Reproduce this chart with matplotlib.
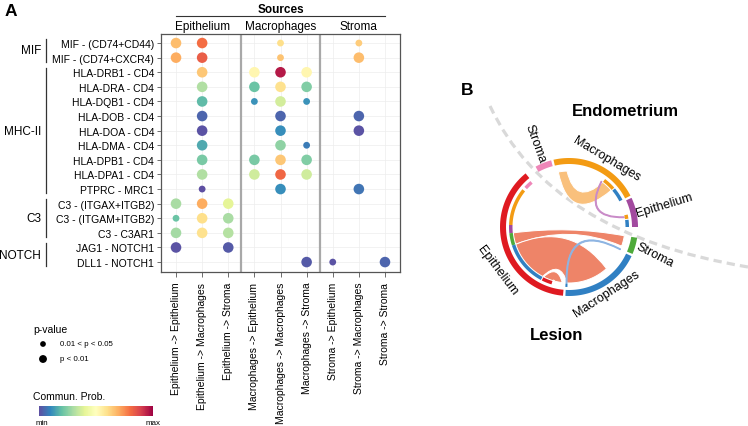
import numpy as np
import matplotlib.pyplot as plt
import matplotlib.transforms as mtransforms
from matplotlib.path import Path
from matplotlib.patches import PathPatch, Polygon
from matplotlib.cm import ScalarMappable
from matplotlib.colors import Normalize

plt.rcParams['font.family'] = ['Liberation Sans', 'DejaVu Sans']

# ---------------- panel A data ----------------
pairs = [
    "MIF - (CD74+CD44)", "MIF - (CD74+CXCR4)",
    "HLA-DRB1 - CD4", "HLA-DRA - CD4", "HLA-DQB1 - CD4", "HLA-DOB - CD4",
    "HLA-DOA - CD4", "HLA-DMA - CD4", "HLA-DPB1 - CD4", "HLA-DPA1 - CD4",
    "PTPRC - MRC1",
    "C3 - (ITGAX+ITGB2)", "C3 - (ITGAM+ITGB2)", "C3 - C3AR1",
    "JAG1 - NOTCH1", "DLL1 - NOTCH1",
]
pathways = ["MIF", "MHC-II", "C3", "NOTCH"]
pathway_rows = [(0, 1), (2, 10), (11, 13), (14, 15)]
sources = ["Epithelium", "Macrophages", "Stroma"]
links = [f"{s} -> {t}" for s in sources for t in sources]

N = np.nan
# scaled communication probability (0 = min, 1 = max), nan = no link
prob = [
    [0.67, 0.80, N, N, 0.60, N, N, 0.64, N],
    [0.70, 0.83, N, N, 0.66, N, N, 0.67, N],
    [N, 0.65, N, 0.53, 0.96, 0.53, N, N, N],
    [N, 0.31, N, 0.21, 0.59, 0.24, N, N, N],
    [N, 0.19, N, 0.12, 0.37, 0.12, N, N, N],
    [N, 0.04, N, N, 0.04, N, N, 0.04, N],
    [N, 0.01, N, N, 0.11, N, N, 0.01, N],
    [N, 0.16, N, N, 0.26, 0.08, N, N, N],
    [N, 0.23, N, 0.23, 0.65, 0.24, N, N, N],
    [N, 0.31, N, 0.36, 0.81, 0.36, N, N, N],
    [N, 0.00, N, N, 0.11, N, N, 0.07, N],
    [0.30, 0.70, 0.40, N, N, N, N, N, N],
    [0.21, 0.60, 0.30, N, N, N, N, N, N],
    [0.29, 0.59, 0.32, N, N, N, N, N, N],
    [0.01, N, 0.02, N, N, N, N, N, N],
    [N, N, N, N, N, 0.02, 0.01, N, 0.04],
]
# 1 = p < 0.01, 0 = 0.01 < p < 0.05
strong = [
    [1, 1, 0, 0, 0, 0, 0, 0, 0],
    [1, 1, 0, 0, 0, 0, 0, 1, 0],
    [0, 1, 0, 1, 1, 1, 0, 0, 0],
    [0, 1, 0, 1, 1, 1, 0, 0, 0],
    [0, 1, 0, 0, 1, 0, 0, 0, 0],
    [0, 1, 0, 0, 1, 0, 0, 1, 0],
    [0, 1, 0, 0, 1, 0, 0, 1, 0],
    [0, 1, 0, 0, 1, 0, 0, 0, 0],
    [0, 1, 0, 1, 1, 1, 0, 0, 0],
    [0, 1, 0, 1, 1, 1, 0, 0, 0],
    [0, 0, 0, 0, 1, 0, 0, 1, 0],
    [1, 1, 1, 0, 0, 0, 0, 0, 0],
    [0, 1, 1, 0, 0, 0, 0, 0, 0],
    [1, 1, 1, 0, 0, 0, 0, 0, 0],
    [1, 0, 1, 0, 0, 0, 0, 0, 0],
    [0, 0, 0, 0, 0, 1, 0, 0, 1],
]

# ---------------- panel B data (angles in degrees) ----------------
sector_names = ["Stroma", "Macrophages", "Epithelium", "Stroma", "Macrophages", "Epithelium"]
sector_colors = ["#EE86B8", "#F39B13", "#A24A9F", "#4EAA3A", "#3080C3", "#DF1A21"]
sector_spans = [(105, 119), (27, 103), (0, 25), (-23, -9), (-93, -25), (129, 265)]
label_pos = [(112, 91, -70), (61, 78, -31), (13, 98, 17), (-18, 90, -27), (-60, 76, 33), (211, 83, -53)]

track_spans = [(41, 53), (27, 40), (8, 12), (0, 7),
               (130, 138), (141, 178), (178, 186), (186, 198), (198, 242), (243, 253), (266.5, 268.5)]
track_colors = ["#F39B13", "#3080C3", "#F39B13", "#3080C3",
                "#EE86B8", "#F39B13", "#A24A9F", "#4EAA3A", "#3080C3", "#DF1A21", "#3080C3"]

chord_src = [(41, 53), (9.5, 10.5), (186, 198), (198, 242), (243, 253), (267, 268)]
chord_tgt = [(92, 101), (54, 55), (-20, -9), (268, 312), (255, 263), (-24, -23)]
chord_colors = ["#F9C07C", "#C98BC8", "#EE8468", "#EE8468", "#EE8468", "#8DB4E2"]

# ---------------- figure ----------------
fig = plt.figure(figsize=(7.48, 4.27), dpi=100)
ax = fig.add_axes([161 / 748, 1 - 273 / 427, 239 / 748, 238 / 427])
ov = fig.add_axes([0, 0, 1, 1])
ov.set_xlim(0, 748)
ov.set_ylim(427, 0)
ov.axis('off')

cmap = plt.cm.Spectral_r
xs, ys, cs, ss = [], [], [], []
for i, row in enumerate(prob):
    for j, v in enumerate(row):
        if not np.isnan(v):
            xs.append(j)
            ys.append(i)
            cs.append(v)
            ss.append(58 if strong[i][j] else 24)
ax.scatter(xs, ys, c=cs, s=ss, cmap=cmap, vmin=0, vmax=1, linewidths=0, zorder=3)

ax.set_xlim(-0.575, 8.575)
ax.set_ylim(15.68, -0.62)
ax.set_xticks(range(len(links)))
ax.set_xticklabels(links, rotation=90, fontsize=7.5)
ax.set_yticks(range(len(pairs)))
ax.set_yticklabels(pairs, fontsize=7.5)
ax.tick_params(axis='y', length=3, width=0.6, color='#555555', pad=2)
ax.tick_params(axis='x', length=3.5, width=0.6, color='#555555', pad=3.5)
ax.grid(color='#EDEDED', lw=0.5)
ax.set_axisbelow(True)
for x in (2.5, 5.5):
    ax.axvline(x, color='#A8A8A8', lw=1.6, zorder=2)
for sp in ax.spines.values():
    sp.set_color('#555555')
    sp.set_linewidth(0.9)

# pathway brackets
tb = mtransforms.blended_transform_factory(fig.transFigure, ax.transData)
for name, (r0, r1) in zip(pathways, pathway_rows):
    ax.plot([46 / 748, 46 / 748], [r0 - 0.3, r1 + 0.3], color='#333333', lw=0.9,
            transform=tb, clip_on=False)
    ax.text(41 / 748, (r0 + r1) / 2, name, transform=tb, ha='right', va='center', fontsize=8.5)

# header
th = mtransforms.blended_transform_factory(ax.transData, ov.transData)
ax.text(4, 10, "Sources", transform=th, ha='center', va='center', fontsize=8.5, fontweight='bold')
ax.plot([0, 8], [17, 17], color='#333333', lw=0.8, transform=th, clip_on=False)
for k, s in enumerate(sources):
    ax.text(3 * k + 1, 27, s, transform=th, ha='center', va='center', fontsize=8.5)

# legends
ov.text(33, 330, "p-value", fontsize=7.5, va='center')
ov.scatter([43, 43], [345, 360], s=[17, 32], color='black', linewidths=0)
ov.text(60, 345, "0.01 < p < 0.05", fontsize=5.7, va='center')
ov.text(60, 360, "p < 0.01", fontsize=5.7, va='center')
ov.text(33, 397, "Commun. Prob.", fontsize=7.5, va='center')
cax = fig.add_axes([39 / 748, 1 - 417 / 427, 114 / 748, 10 / 427])
cb = fig.colorbar(ScalarMappable(Normalize(0, 1), cmap), cax=cax, orientation='horizontal')
cb.set_ticks([])
cb.outline.set_visible(False)
ov.text(41.5, 424, "min", fontsize=5.8, ha='center', va='center')
ov.text(153, 424, "max", fontsize=5.8, ha='center', va='center')

ov.text(11, 12, "A", fontsize=12.5, fontweight='bold', ha='center', va='center')
ov.text(467, 90.5, "B", fontsize=12.5, fontweight='bold', ha='center', va='center')

# ---------------- panel B: chord diagram ----------------
C = np.array([569.0, 228.0])
R_OUT, R_OUT_IN = 69, 63
R_TR, R_TR_IN = 60, 56.5
R_CH = 56


def pt(a, r):
    t = np.radians(a)
    return np.array([C[0] + r * np.cos(t), C[1] - r * np.sin(t)])


def band(a1, a2, r1, r2, color, z=3):
    t = np.linspace(a1, a2, 60)
    verts = [pt(a, r2) for a in t] + [pt(a, r1) for a in t[::-1]]
    ov.add_patch(Polygon(verts, closed=True, facecolor=color, edgecolor='none', zorder=z))


def ctrl(p0, p1, ratio=0.42):
    # quadratic control point: link height grows with the distance between the roots
    m = (p0 + p1) / 2
    d = np.linalg.norm(p1 - p0)
    dm = np.linalg.norm(C - m)
    if dm < 1e-6:
        return m
    h = min(ratio * d, 0.6 * dm)
    return m + 2 * h * (C - m) / dm


def chord(src, tgt, color, edge):
    s1, s2 = src
    t1, t2 = tgt
    verts, codes = [], []
    verts += [pt(a, R_CH) for a in np.linspace(s1, s2, 20)]
    codes += [Path.MOVETO] + [Path.LINETO] * 19
    p0, p1 = pt(s2, R_CH), pt(t1, R_CH)
    verts += [ctrl(p0, p1), p1]
    codes += [Path.CURVE3] * 2
    verts += [pt(a, R_CH) for a in np.linspace(t1, t2, 20)][1:]
    codes += [Path.LINETO] * 19
    p0, p1 = pt(t2, R_CH), pt(s1, R_CH)
    verts += [ctrl(p0, p1), p1]
    codes += [Path.CURVE3] * 2
    verts.append(p1)
    codes.append(Path.CLOSEPOLY)
    ov.add_patch(PathPatch(Path(verts, codes), facecolor=color, edgecolor=edge,
                           lw=0.7, zorder=2))


# dashed separator
sep = Path([(490, 107), (550, 235), (748, 268)], [Path.MOVETO, Path.CURVE3, Path.CURVE3])
ov.add_patch(PathPatch(sep, facecolor='none', edgecolor='#D9D9D9', lw=2.3,
                       linestyle=(0, (2.6, 1.6)), zorder=1))

for (a1, a2), col in zip(sector_spans, sector_colors):
    band(a1, a2, R_OUT_IN, R_OUT, col)
for (a1, a2), col in zip(track_spans, track_colors):
    band(a1, a2, R_TR_IN, R_TR, col)
for src, tgt, col in zip(chord_src, chord_tgt, chord_colors):
    thin = abs(src[1] - src[0]) < 2
    chord(src, tgt, col, col if thin else 'white')

for name, (a, r, rot) in zip(sector_names, label_pos):
    x, y = pt(a, r)
    ov.text(x, y, name, fontsize=9, rotation=rot, rotation_mode='anchor',
            ha='center', va='center')

ov.text(625, 111, "Endometrium", fontsize=12, fontweight='bold', ha='center', va='center')
ov.text(557, 336, "Lesion", fontsize=12, fontweight='bold', ha='center', va='center')

fig.savefig("out.png", dpi=100)
